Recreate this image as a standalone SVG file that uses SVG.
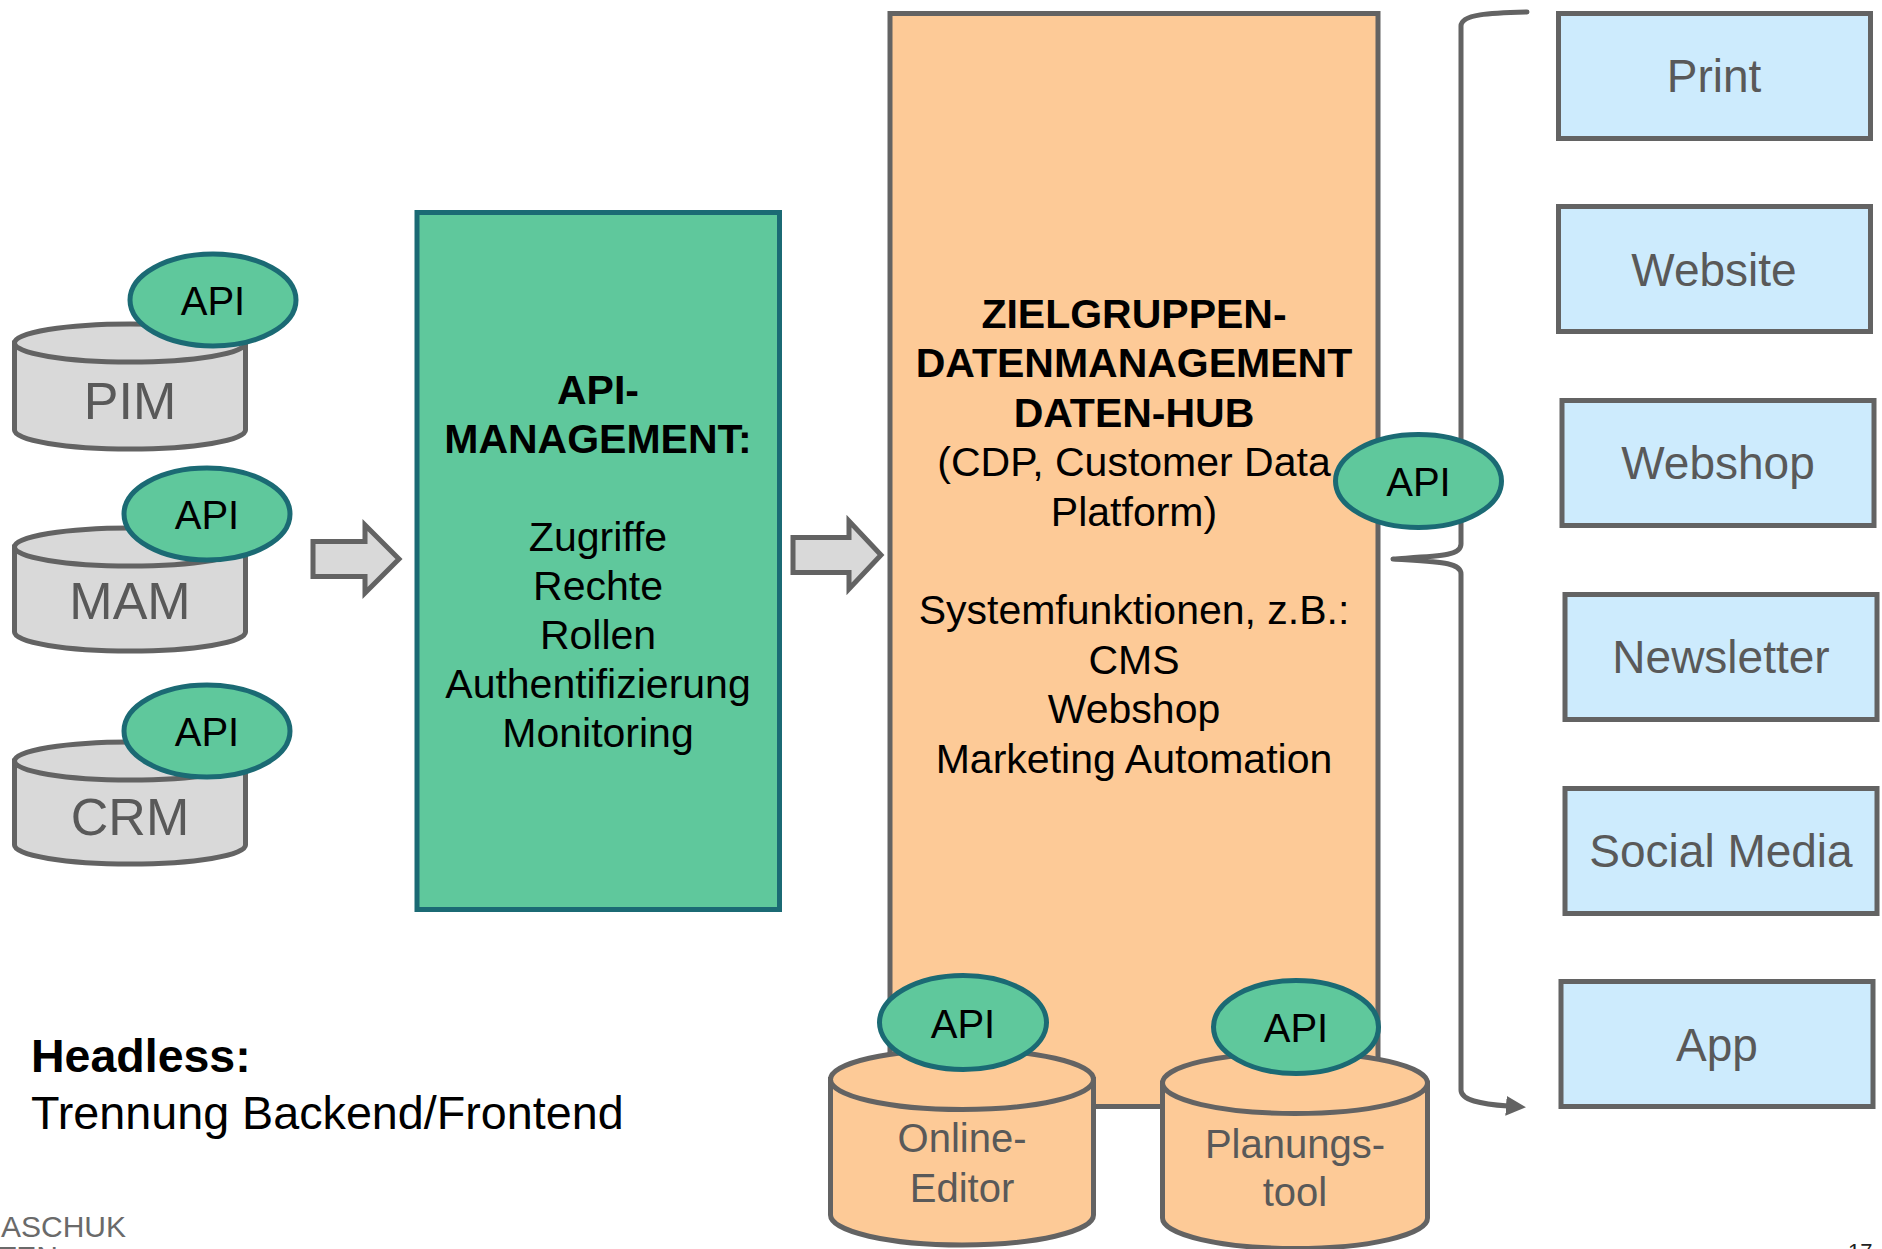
<svg xmlns="http://www.w3.org/2000/svg" width="1882" height="1249" viewBox="0 0 1882 1249">
<style>
text{font-family:"Liberation Sans",Arial,sans-serif}
.cyl{fill:#d9d9d9;stroke:#636363;stroke-width:5}
.cylo{fill:#fdca97;stroke:#636363;stroke-width:5}
.api{fill:#5fc89c;stroke:#1b6a74;stroke-width:5}
.apit{font-size:40px;fill:#000;text-anchor:middle}
.cylt{font-size:52px;fill:#595959;text-anchor:middle}
.cylt2{font-size:40px;fill:#595959;text-anchor:middle}
.box{fill:#cdebfd;stroke:#636363;stroke-width:5}
.boxt{font-size:46px;fill:#595959;text-anchor:middle}
.mt{font-size:41px;fill:#000;text-anchor:middle}
.b{font-weight:bold}
.barrow{fill:#d9d9d9;stroke:#636363;stroke-width:5;stroke-linejoin:miter}
.line{fill:none;stroke:#636363;stroke-width:5;stroke-linecap:round;stroke-linejoin:round}
</style>
<defs>
<marker id="ah" markerWidth="20" markerHeight="20" refX="2" refY="10" orient="auto" markerUnits="userSpaceOnUse" viewBox="0 0 20 20">
<path d="M0,0 L20,10 L0,20 Z" fill="#636363"/>
</marker>
</defs>
<rect width="1882" height="1249" fill="#fff"/>

<g id="api-management">
<rect x="417" y="212.5" width="362.5" height="697" fill="#5fc89c" stroke="#1b6a74" stroke-width="5"/>
<text class="mt b" x="598" y="404">API-</text>
<text class="mt b" x="598" y="453">MANAGEMENT:</text>
<text class="mt" x="598" y="551">Zugriffe</text>
<text class="mt" x="598" y="600">Rechte</text>
<text class="mt" x="598" y="649">Rollen</text>
<text class="mt" x="598" y="698">Authentifizierung</text>
<text class="mt" x="598" y="747">Monitoring</text>
</g>

<g id="daten-hub">
<rect x="890" y="13.5" width="488" height="1093" fill="#fdca97" stroke="#636363" stroke-width="5"/>
<text class="mt b" x="1134" y="328">ZIELGRUPPEN-</text>
<text class="mt b" x="1134" y="377.4">DATENMANAGEMENT</text>
<text class="mt b" x="1134" y="426.8">DATEN-HUB</text>
<text class="mt" x="1134" y="476.2">(CDP, Customer Data</text>
<text class="mt" x="1134" y="525.6">Platform)</text>
<text class="mt" x="1134" y="624.4">Systemfunktionen, z.B.:</text>
<text class="mt" x="1134" y="673.8">CMS</text>
<text class="mt" x="1134" y="723.2">Webshop</text>
<text class="mt" x="1134" y="772.6">Marketing Automation</text>
</g>

<g id="connectors">
<polygon class="barrow" points="313,541.5 365,541.5 365,525 399,559 365,593 365,576.5 313,576.5"/>
<polygon class="barrow" points="793,537.5 849,537.5 849,521 881,555 849,589 849,572.5 793,572.5"/>
<path class="line" d="M1527,12 C1490,13 1461,14 1461,26 L1461,544 C1461,556 1440,556 1393,559 C1440,562 1461,562 1461,574 L1461,1090 C1461,1100 1480,1104 1508,1106" marker-end="url(#ah)"/>
</g>

<g id="pim">
<path class="cyl" d="M14.5,343 L14.5,430 A115.5,19 0 0 0 245.5,430 L245.5,343 Z"/>
<ellipse class="cyl" cx="130" cy="343" rx="115.5" ry="19"/>
<text class="cylt" x="130" y="419">PIM</text>
<ellipse class="api" cx="213" cy="300" rx="83" ry="46"/>
<text class="apit" x="213" y="315">API</text>
</g>

<g id="mam">
<path class="cyl" d="M14.5,547 L14.5,632 A115.5,19 0 0 0 245.5,632 L245.5,547 Z"/>
<ellipse class="cyl" cx="130" cy="547" rx="115.5" ry="19"/>
<text class="cylt" x="130" y="619">MAM</text>
<ellipse class="api" cx="207" cy="514" rx="83" ry="46"/>
<text class="apit" x="207" y="529">API</text>
</g>

<g id="crm">
<path class="cyl" d="M14.5,761 L14.5,845 A115.5,19 0 0 0 245.5,845 L245.5,761 Z"/>
<ellipse class="cyl" cx="130" cy="761" rx="115.5" ry="19"/>
<text class="cylt" x="130" y="835">CRM</text>
<ellipse class="api" cx="207" cy="731" rx="83" ry="46"/>
<text class="apit" x="207" y="746">API</text>
</g>

<g id="hub-api">
<ellipse class="api" cx="1418.5" cy="481" rx="83" ry="46.5"/>
<text class="apit" x="1418.5" y="496">API</text>
</g>

<g id="online-editor">
<path class="cylo" d="M830.5,1079.5 L830.5,1215 A131.5,30 0 0 0 1093.5,1215 L1093.5,1079.5 Z"/>
<ellipse class="cylo" cx="962" cy="1079.5" rx="131.5" ry="30"/>
<text class="cylt2" x="962" y="1152">Online-</text>
<text class="cylt2" x="962" y="1202">Editor</text>
<ellipse class="api" cx="963" cy="1022.5" rx="83.5" ry="47"/>
<text class="apit" x="963" y="1037.5">API</text>
</g>

<g id="planungstool">
<path class="cylo" d="M1162.5,1083 L1162.5,1218 A132.5,30.5 0 0 0 1427.5,1218 L1427.5,1083 Z"/>
<ellipse class="cylo" cx="1295" cy="1083" rx="132.5" ry="30.5"/>
<text class="cylt2" x="1295" y="1158">Planungs-</text>
<text class="cylt2" x="1295" y="1206">tool</text>
<ellipse class="api" cx="1296" cy="1027" rx="82.5" ry="46.5"/>
<text class="apit" x="1296" y="1042">API</text>
</g>

<g id="print"><rect class="box" x="1558.5" y="13.5" width="312" height="125"/><text class="boxt" x="1714" y="92">Print</text></g>
<g id="website"><rect class="box" x="1558.5" y="206.5" width="312" height="125"/><text class="boxt" x="1714" y="286">Website</text></g>
<g id="webshop"><rect class="box" x="1562" y="400.5" width="312" height="125"/><text class="boxt" x="1718" y="479">Webshop</text></g>
<g id="newsletter"><rect class="box" x="1565" y="594.5" width="312" height="125"/><text class="boxt" x="1721" y="673">Newsletter</text></g>
<g id="social-media"><rect class="box" x="1565" y="788.5" width="312" height="125"/><text class="boxt" x="1721" y="867">Social Media</text></g>
<g id="app"><rect class="box" x="1561" y="981.5" width="312" height="125"/><text class="boxt" x="1717" y="1061">App</text></g>

<g id="caption">
<text x="31" y="1072" font-size="46.5" font-weight="bold" fill="#000">Headless:</text>
<text x="31" y="1129" font-size="46.7" fill="#000">Trennung Backend/Frontend</text>
</g>

<g id="footer">
<text x="1" y="1237" font-size="30" fill="#6a6a6a">ASCHUK</text>
<text x="58" y="1267" font-size="30" fill="#6a6a6a" text-anchor="end">ATEN</text>
<text x="1848" y="1259" font-size="22" fill="#222">17</text>
</g>
</svg>
